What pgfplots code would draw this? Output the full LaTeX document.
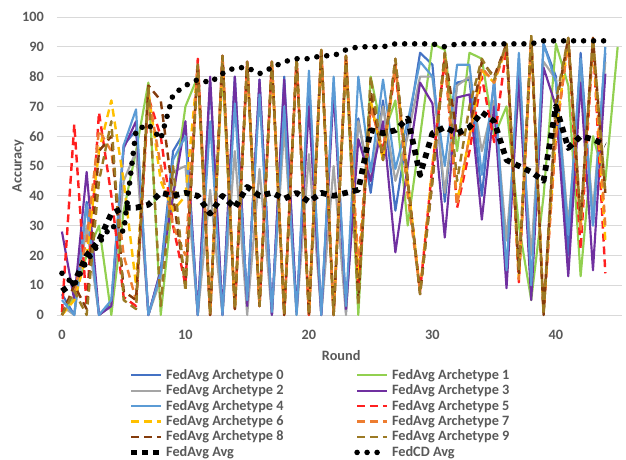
\documentclass[border=0pt]{standalone}
\usepackage{pgfplots}
\pgfplotsset{compat=1.18}
\usepackage{pgfplotstable}
\usepackage{fontspec}
\setmainfont{Carlito}

\definecolor{c0}{HTML}{4472C4}
\definecolor{c1}{HTML}{92D050}
\definecolor{c2}{HTML}{A5A5A5}
\definecolor{c3}{HTML}{7030A0}
\definecolor{c4}{HTML}{5B9BD5}
\definecolor{c5}{HTML}{FF2020}
\definecolor{c6}{HTML}{FFC000}
\definecolor{c7}{HTML}{ED7D31}
\definecolor{c8}{HTML}{843C0C}
\definecolor{c9}{HTML}{9C7A24}
\definecolor{txt}{HTML}{595959}
\definecolor{grd}{HTML}{D9D9D9}

% accuracy per round: archetypes a0..a9, FedAvg Avg (fa), FedCD Avg (fc)
\pgfplotstableread{
r  a0 a1 a2 a3 a4 a5 a6 a7 a8 a9 fa fc
0  7  0  3  28 5  1  0  0  0  0  8  14
1  0  6  0  5  0  64 5  8  10 8  11 10
2  38 20 30 48 37 3  20 25 2  0  20 18
3  0  30 0  0  0  68 55 62 55 45 25 24
4  4  0  3  3  5  40 72 55 60 65 34 30
5  57 35 45 56 57 6  45 20 8  5  36 28
6  62 55 55 65 69 3  10 5  5  2  36 62
7  0  78 0  0  0  73 75 74 77 77 37 64
8  15 0  12 15 14 60 45 50 72 3  41 59
9  55 40 48 40 52 30 35 30 40 50 40 74
10 62 70 50 65 60 10 40 20 10 8  41 77
11 0  80 0  0  0  86 83 84 84 84 40 79
12 78 0  42 80 65 0  2  1  0  0  34 78
13 0  82 0  0  0  87 85 86 87 87 40 81
14 80 2  55 80 71 2  3  2  2  2  36 83
15 3  83 0  3  5  85 84 85 85 85 43 83
16 79 3  49 79 74 3  4  3  3  3  40 81
17 0  84 0  0  1  85 84 85 85 85 41 83
18 80 0  63 79 70 0  1  0  0  0  39 85
19 1  85 0  1  0  86 86 86 86 86 41 86
20 79 0  54 70 82 0  1  0  0  0  38 86
21 0  87 0  0  0  89 88 89 89 89 41 87
22 78 0  50 75 80 0  1  0  0  0  40 87
23 1  85 0  2  3  87 86 87 87 87 41 89
24 66 0  65 59 80 9  12 17 5  3  42 90
25 41 80 45 45 48 70 72 70 75 80 62 90
26 72 60 70 65 79 55 52 55 52 52 61 90
27 35 72 45 21 49 82 84 84 86 86 62 91
28 62 30 60 50 65 45 45 40 45 45 66 91
29 88 60 80 78 85 8  8  8  7  7  47 91
30 84 91 80 71 80 50 50 48 45 45 61 91
31 38 89 41 26 50 86 87 87 88 88 63 90
32 78 55 77 73 84 36 38 37 60 45 61 91
33 79 88 80 74 84 55 60 60 62 70 63 91
34 40 86 55 32 47 80 82 83 85 86 68 91
35 79 60 72 70 78 58 78 78 80 79 65 91
36 12 70 25 9  15 90 90 90 91 91 52 91
37 86 30 75 80 88 11 12 12 14 15 50 91
38 8  5  20 5  10 92 92 93 93 94 48 91
39 91 40 85 83 91 1  1  1  0  0  45 92
40 80 91 79 70 78 60 62 60 70 72 70 92
41 20 77 30 13 27 92 92 93 93 93 56 92
42 88 13 80 78 86 22 30 28 32 32 60 92
43 30 60 35 15 30 92 92 93 93 93 59 92
44 88 45 85 81 90 14 25 30 41 41 57 92
45 nan 90 nan nan nan nan nan nan nan nan nan nan
}\data

\begin{document}
\begin{tikzpicture}
\begin{axis}[
    scale only axis,
    width=395.5pt, height=208.6pt,
    xmin=-0.4, xmax=45.35, ymin=0, ymax=100,
    xtick={0,10,20,30,40},
    ytick={0,10,...,100},
    axis line style={draw=none},
    major tick length=0pt,
    ymajorgrids,
    grid style={grd, line width=0.7pt},
    clip=false,
    /pgf/number format/assume math mode=true,
    tick label style={font=\fontsize{10}{12}\selectfont\bfseries, text=txt},
    xticklabel style={anchor=center, yshift=-14pt},
    yticklabel style={anchor=east, inner sep=0pt, xshift=-9pt},
    xlabel={Round}, ylabel={Accuracy},
    label style={font=\fontsize{10}{12}\selectfont\bfseries, text=txt},
    xlabel style={at={(axis description cs:0.503,-0.1376)}, anchor=center},
    ylabel style={at={(axis description cs:-0.069,0.5)}, anchor=center, rotate=0},
    every axis plot/.append style={line join=round},
    legend columns=2,
    legend cell align=left,
    legend image code/.code={\draw[#1] (0pt,0pt) -- (21pt,0pt);},
    legend style={at={(0.1257,-0.171)}, anchor=north west, draw=none, fill=none,
        font=\fontsize{10}{10}\selectfont\bfseries, text=txt,
        inner sep=0pt, row sep=-1.7pt,
        nodes={inner xsep=1.5pt},
        /tikz/column 2/.style={column sep=48pt}},
]
\coordinate (bl) at (rel axis cs:0,0);
\coordinate (tr) at (rel axis cs:1,1);
\addplot[c0, line width=1.5pt] table[x=r, y=a0] {\data};
\addplot[c1, line width=1.5pt] table[x=r, y=a1] {\data};
\addplot[c2, line width=1.5pt] table[x=r, y=a2] {\data};
\addplot[c3, line width=1.5pt] table[x=r, y=a3] {\data};
\addplot[c4, line width=1.5pt] table[x=r, y=a4] {\data};
\addplot[c5, line width=1.7pt, dash pattern=on 5.5pt off 3.5pt] table[x=r, y=a5] {\data};
\addplot[c6, line width=1.7pt, dash pattern=on 5.5pt off 3.5pt] table[x=r, y=a6] {\data};
\addplot[c7, line width=1.7pt, dash pattern=on 5.5pt off 3.5pt] table[x=r, y=a7] {\data};
\addplot[c8, line width=1.7pt, dash pattern=on 5.5pt off 3.5pt] table[x=r, y=a8] {\data};
\addplot[c9, line width=1.7pt, dash pattern=on 5.5pt off 3.5pt] table[x=r, y=a9] {\data};
\addplot[black, line width=4pt, line cap=butt, dash pattern=on 4pt off 3.6pt] table[x=r, y=fa] {\data};
\addplot[black, line width=3.9pt, line cap=round, dash pattern=on 0pt off 7pt] table[x=r, y=fc] {\data};
\legend{FedAvg Archetype 0, FedAvg Archetype 1, FedAvg Archetype 2, FedAvg Archetype 3,
    FedAvg Archetype 4, FedAvg Archetype 5, FedAvg Archetype 6, FedAvg Archetype 7,
    FedAvg Archetype 8, FedAvg Archetype 9, FedAvg Avg, FedCD Avg}
\end{axis}
\pgfresetboundingbox
\path ([shift={(-39.9pt,-101.5pt)}]bl) rectangle ([shift={(2.8pt,11.9pt)}]tr);
\end{tikzpicture}
\end{document}
